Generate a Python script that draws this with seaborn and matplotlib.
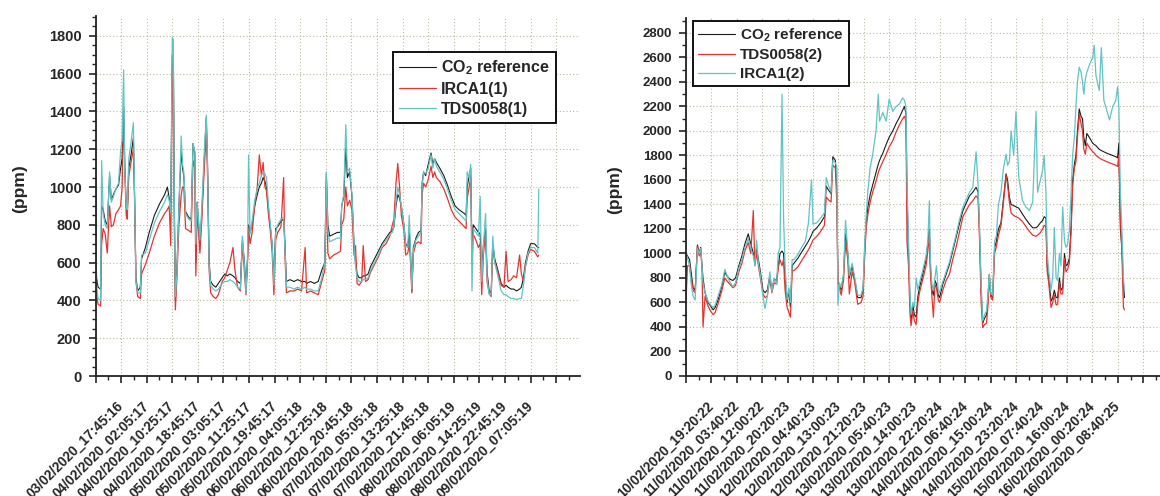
# -*- coding: utf-8 -*-
"""
CO2 传感器对比：两组测量（参考仪 vs IRCA1 / TDS0058）时间序列
x 轴为采样序号（5 min 一个点），主刻度每 100 点（8h20m）
"""
import matplotlib
matplotlib.use('Agg')
import matplotlib.pyplot as plt
import seaborn as sns
from matplotlib.ticker import MultipleLocator

sns.set_style('ticks')
plt.rcParams['font.family'] = ['Liberation Sans', 'DejaVu Sans']
plt.rcParams['font.weight'] = 'bold'
plt.rcParams['mathtext.fontset'] = 'custom'
plt.rcParams['mathtext.rm'] = 'Liberation Sans'
plt.rcParams['mathtext.bf'] = 'Liberation Sans:bold'

# ========== 数据：第一组 ==========
x_left = [0, 4, 10, 20, 24, 30, 38, 46, 55, 62, 70, 80, 90, 98, 104, 110, 114, 120, 124, 130,
          140, 148, 152, 158, 165, 175, 180, 195, 210, 230, 250, 270, 281, 288, 294, 300, 304, 308,
          312, 318, 326, 335, 340, 345, 352, 364, 374, 381, 388, 392, 397, 403, 408, 415, 425,
          433, 438, 444, 450, 460, 470, 480, 495, 505, 515, 525, 537, 545, 555, 566, 574, 582,
          588, 594, 598, 604, 612, 622, 632, 640, 648, 655, 662, 668, 676, 682, 690, 697, 704,
          712, 725, 735, 740, 746, 760, 775, 790, 805, 819, 825, 840, 855, 870, 884, 896, 902,
          908, 915, 930, 945, 957, 962, 970, 978, 984, 993, 1002, 1010, 1016, 1022, 1030, 1040,
          1046, 1055, 1065, 1075, 1090, 1105, 1120, 1135, 1150, 1160, 1166, 1174, 1181, 1188,
          1195, 1205, 1212, 1220, 1226, 1231, 1236, 1242, 1252, 1262, 1272, 1276, 1282, 1290,
          1300, 1311, 1318, 1325, 1332, 1345, 1361, 1375, 1390, 1405, 1420, 1441, 1448, 1452,
          1460, 1466, 1471, 1476, 1486, 1496, 1503, 1509, 1516, 1524, 1530, 1538, 1546, 1552,
          1560, 1572, 1585, 1596, 1604, 1612, 1624, 1634, 1645, 1657, 1664, 1672, 1680, 1690,
          1700, 1715, 1728, 1732]
ref_left = [1080, 520, 470, 460, 900, 880, 820, 800, 1060, 930, 960, 990, 1010, 1100, 1150, 1420,
            1100, 900, 860, 1100, 1180, 1260, 1000, 520, 450, 470, 620, 680, 760, 850, 910, 960,
            1000, 940, 880, 1700, 1720, 900, 400, 560, 900, 1200, 1100, 1060, 870, 840, 830, 1230,
            1180, 600, 920, 800, 700, 850, 1150, 1370, 1100, 600, 500, 480, 470, 490, 520, 540,
            530, 540, 530, 520, 500, 490, 720, 600, 460, 620, 800, 760, 800, 900, 960, 1000,
            1020, 1050, 1030, 1000, 880, 800, 700, 500, 780, 790, 820, 830, 700, 500, 510, 500,
            510, 500, 500, 490, 500, 490, 500, 560, 600, 1070, 800, 740, 750, 760, 760, 900, 950,
            1210, 1050, 1080, 950, 700, 600, 540, 520, 520, 530, 530, 540, 580, 620, 660, 700,
            730, 760, 770, 790, 900, 960, 940, 900, 800, 700, 680, 760, 650, 450, 680, 730, 760,
            770, 1020, 1080, 1060, 1120, 1180, 1120, 1150, 1130, 1100, 1060, 1010, 950, 900, 880,
            860, 850, 1000, 1060, 1100, 650, 800, 780, 760, 750, 550, 700, 780, 550, 450, 440,
            700, 620, 560, 490, 470, 480, 470, 460, 460, 450, 460, 470, 520, 600, 660, 700, 700,
            680, 680]
irca1_left = [1000, 430, 380, 370, 700, 780, 750, 650, 900, 790, 800, 860, 880, 900, 1000, 1420,
              1150, 850, 830, 1060, 1140, 1200, 980, 500, 420, 410, 540, 590, 650, 740, 810, 860,
              880, 900, 690, 1620, 1560, 800, 350, 520, 800, 960, 1000, 1000, 780, 770, 760, 1140,
              1100, 530, 870, 760, 650, 820, 1100, 1300, 1050, 560, 440, 420, 410, 430, 500, 520,
              560, 600, 680, 560, 470, 450, 700, 550, 430, 600, 780, 700, 760, 900, 1000, 1170,
              1060, 1130, 1000, 980, 850, 780, 660, 430, 720, 760, 790, 1050, 650, 440, 450, 450,
              460, 450, 680, 440, 450, 440, 430, 500, 560, 1000, 650, 620, 640, 650, 660, 800, 830,
              1000, 900, 930, 880, 640, 690, 490, 480, 500, 690, 500, 510, 550, 590, 630, 680,
              700, 740, 800, 830, 1020, 1125, 1000, 850, 770, 640, 650, 700, 600, 440, 650, 700,
              710, 700, 960, 1020, 1000, 1040, 1110, 1050, 1080, 1050, 1030, 990, 940, 880, 840,
              820, 790, 780, 940, 1000, 1050, 600, 750, 720, 680, 700, 430, 650, 750, 500, 440,
              420, 680, 600, 550, 480, 470, 660, 500, 510, 530, 520, 640, 540, 500, 580, 640, 670,
              660, 630, 640]
tds_left = [1090, 470, 410, 400, 1140, 860, 800, 780, 1080, 920, 950, 990, 1020, 1190, 1250, 1620,
            1100, 900, 880, 1150, 1250, 1340, 1020, 500, 440, 440, 640, 650, 720, 810, 870, 920,
            960, 930, 870, 1790, 1780, 900, 420, 540, 900, 1270, 1120, 1080, 860, 830, 820, 1230,
            1190, 700, 920, 820, 720, 880, 1180, 1380, 1100, 580, 480, 460, 450, 460, 490, 500,
            500, 510, 500, 490, 470, 460, 740, 580, 440, 640, 1170, 750, 820, 930, 990, 1020,
            1060, 1080, 1070, 1050, 900, 820, 700, 480, 760, 800, 830, 840, 680, 470, 470, 460,
            470, 460, 470, 460, 460, 450, 450, 520, 600, 1080, 760, 710, 720, 730, 730, 900, 960,
            1330, 1080, 1100, 960, 700, 580, 520, 500, 500, 510, 510, 520, 560, 600, 640, 690,
            720, 750, 760, 800, 920, 1000, 960, 900, 800, 690, 680, 850, 640, 460, 670, 720, 740,
            760, 1000, 1080, 1070, 1100, 1170, 1100, 1150, 1110, 1080, 1040, 990, 930, 880, 860,
            830, 820, 1080, 1050, 1120, 450, 780, 760, 740, 950, 500, 690, 860, 520, 430, 430,
            740, 600, 530, 450, 430, 430, 420, 410, 410, 405, 410, 410, 480, 580, 650, 680, 680,
            650, 990]

# ========== 数据：第二组 ==========
x_right = [0, 6, 14, 20, 28, 36, 45, 52, 58, 63, 67, 75, 87, 97, 107, 115, 126, 140, 153, 160,
           172, 185, 195, 208, 220, 232, 245, 255, 265, 271, 278, 285, 293, 303, 311, 320, 330,
           338, 347, 357, 363, 370, 378, 384, 390, 398, 405, 411, 418, 425, 440, 455, 470, 482,
           494, 500, 515, 530, 545, 552, 560, 571, 578, 588, 594, 598, 604, 611, 620, 628, 637,
           643, 654, 663, 676, 689, 697, 703, 709, 716, 725, 735, 748, 757, 762, 775, 788, 800,
           814, 827, 840, 853, 860, 866, 870, 876, 882, 886, 893, 899, 906, 913, 919, 932, 945,
           952, 958, 962, 968, 974, 980, 986, 993, 998, 1011, 1024, 1037, 1050, 1063, 1076,
           1090, 1103, 1116, 1129, 1142, 1150, 1155, 1162, 1168, 1175, 1183, 1188, 1194, 1200,
           1207, 1215, 1222, 1230, 1240, 1250, 1260, 1266, 1273, 1280, 1290, 1299, 1310, 1325,
           1338, 1352, 1365, 1378, 1384, 1395, 1404, 1410, 1417, 1422, 1428, 1437, 1444, 1450,
           1457, 1463, 1470, 1476, 1483, 1490, 1496, 1502, 1509, 1516, 1522, 1529, 1535, 1541,
           1548, 1555, 1561, 1566, 1572, 1578, 1590, 1601, 1607, 1614, 1627, 1635, 1645, 1655,
           1667, 1680, 1692, 1699, 1704, 1710, 1716, 1722, 1726]
ref_right = [1000, 980, 950, 850, 720, 700, 1070, 1000, 1050, 900, 800, 680, 600, 570, 540, 560,
             620, 720, 850, 820, 790, 780, 800, 900, 980, 1080, 1160, 1080, 1000, 930, 1050, 950,
             850, 700, 680, 700, 820, 700, 790, 780, 900, 1000, 1020, 1000, 800, 600, 700, 560,
             900, 920, 960, 1010, 1060, 1100, 1150, 1180, 1210, 1250, 1300, 1550, 1520, 1490,
             1790, 1760, 1500, 760, 750, 700, 820, 1160, 1000, 800, 900, 800, 640, 640, 700,
             1000, 1240, 1380, 1480, 1560, 1660, 1730, 1760, 1820, 1890, 1950, 2000, 2060, 2110,
             2170, 2200, 2140, 1500, 1000, 600, 450, 580, 500, 480, 650, 720, 830, 950, 1080,
             1200, 900, 700, 660, 780, 750, 660, 640, 750, 830, 910, 1020, 1130, 1240, 1350, 1410,
             1470, 1500, 1540, 1500, 1210, 700, 430, 470, 500, 600, 830, 660, 640, 1050, 1100,
             1200, 1250, 1450, 1650, 1600, 1460, 1400, 1390, 1380, 1370, 1320, 1280, 1240, 1210,
             1210, 1220, 1250, 1270, 1300, 1290, 900, 800, 610, 640, 700, 640, 640, 800, 700, 720,
             1000, 900, 910, 960, 1210, 1600, 1730, 1800, 2000, 2180, 2120, 2100, 1950, 1880,
             1980, 1940, 1900, 1890, 1880, 1850, 1840, 1830, 1820, 1810, 1800, 1790, 1780, 1900,
             1200, 1050, 750, 640]
tds_right = [620, 900, 900, 800, 700, 680, 1060, 980, 1020, 880, 400, 650, 570, 530, 500, 520,
             590, 690, 800, 780, 750, 720, 740, 850, 920, 1020, 1090, 1000, 1350, 900, 1000, 900,
             800, 670, 640, 650, 800, 680, 760, 750, 880, 950, 900, 950, 700, 560, 520, 480, 860,
             860, 890, 940, 990, 1030, 1080, 1110, 1140, 1180, 1230, 1460, 1440, 1420, 1720, 1700,
             1400, 760, 720, 660, 780, 1100, 950, 670, 850, 780, 585, 600, 650, 960, 1200, 1320,
             1420, 1500, 1590, 1660, 1690, 1750, 1810, 1870, 1920, 1990, 2050, 2100, 2120, 2080,
             1100, 900, 500, 410, 530, 450, 420, 600, 680, 790, 900, 1020, 1150, 850, 650, 480,
             750, 720, 620, 600, 700, 780, 830, 950, 1050, 1170, 1300, 1350, 1400, 1430, 1470,
             1450, 1150, 600, 395, 420, 430, 560, 800, 640, 620, 1000, 1060, 1150, 1230, 1420,
             1640, 1560, 1420, 1330, 1310, 1300, 1290, 1260, 1220, 1180, 1150, 1140, 1150, 1170,
             1200, 1230, 1220, 850, 760, 560, 600, 660, 580, 585, 760, 670, 670, 960, 850, 870,
             920, 1180, 1550, 1700, 1750, 1950, 2140, 2060, 2000, 1850, 1810, 1900, 1860, 1830,
             1820, 1800, 1780, 1770, 1760, 1750, 1740, 1730, 1720, 1710, 1800, 1300, 1000, 560,
             540]
irca1_right = [1000, 960, 900, 760, 650, 620, 1040, 1000, 1040, 900, 760, 680, 610, 580, 560,
               580, 650, 740, 870, 830, 770, 730, 760, 880, 950, 1050, 1120, 1040, 980, 900, 1110,
               920, 820, 650, 550, 650, 850, 690, 800, 750, 1000, 1050, 2300, 1300, 900, 620, 720,
               600, 950, 950, 990, 1050, 1100, 1250, 1600, 1240, 1250, 1290, 1330, 1620, 1560,
               1500, 1760, 1740, 1700, 580, 760, 720, 830, 1270, 1020, 820, 920, 820, 660, 660,
               720, 1050, 1300, 1510, 1700, 1810, 2000, 2300, 2080, 2150, 2080, 2260, 2160, 2200,
               2220, 2270, 2250, 2200, 1600, 1100, 650, 500, 600, 560, 800, 700, 760, 860, 980,
               1100, 1430, 950, 750, 700, 800, 900, 700, 680, 770, 850, 930, 1040, 1150, 1270,
               1380, 1440, 1500, 1540, 1830, 1550, 1250, 750, 450, 500, 530, 650, 830, 680, 660,
               1100, 1150, 1400, 1500, 1700, 1810, 1720, 1750, 2000, 1800, 2160, 1620, 1430, 1380,
               1350, 1420, 2160, 1500, 1600, 1680, 1800, 1500, 1000, 850, 700, 820, 1210, 800, 780,
               1000, 900, 1380, 1100, 1050, 1075, 1180, 1500, 1800, 1950, 2200, 2400, 2520, 2480,
               2400, 2300, 2420, 2480, 2550, 2600, 2700, 2450, 2330, 2680, 2250, 2180, 2090, 2200,
               2250, 2360, 2200, 1500, 1200, 800, 700]

left_ticklabels = ['03/02/2020_17:45:16', '04/02/2020_02:05:17', '04/02/2020_10:25:17',
                   '04/02/2020_18:45:17', '05/02/2020_03:05:17', '05/02/2020_11:25:17',
                   '05/02/2020_19:45:17', '06/02/2020_04:05:18', '06/02/2020_12:25:18',
                   '06/02/2020_20:45:18', '07/02/2020_05:05:18', '07/02/2020_13:25:18',
                   '07/02/2020_21:45:18', '08/02/2020_06:05:19', '08/02/2020_14:25:19',
                   '08/02/2020_22:45:19', '09/02/2020_07:05:19']
right_ticklabels = ['10/02/2020_19:20:22', '11/02/2020_03:40:22', '11/02/2020_12:00:22',
                    '11/02/2020_20:20:23', '12/02/2020_04:40:23', '12/02/2020_13:00:23',
                    '12/02/2020_21:20:23', '13/02/2020_05:40:23', '13/02/2020_14:00:23',
                    '13/02/2020_22:20:24', '14/02/2020_06:40:24', '14/02/2020_15:00:24',
                    '14/02/2020_23:20:24', '15/02/2020_07:40:24', '15/02/2020_16:00:24',
                    '16/02/2020_00:20:24', '16/02/2020_08:40:25']

C_REF = '#1a1a1a'
C_RED = '#e3342f'
C_CYAN = '#62c3c3'
CO2_LABEL = r'CO$_\mathbf{2}$ reference'

fig = plt.figure(figsize=(11.6, 4.96), dpi=100)
ax1 = fig.add_axes([95.5 / 1160, 120 / 496, 484.5 / 1160, 360 / 496])
ax2 = fig.add_axes([686 / 1160, 120 / 496, 474 / 1160, 358 / 496])


def style_axis(ax, labels, xmax, ymax, ymajor, yminor, ysize):
    ax.set_xlim(0, xmax)
    ax.set_ylim(0, ymax)
    ticks = list(range(0, 1900, 100))
    ax.set_xticks(ticks)
    ax.set_xticklabels([''] + labels + [''] * (len(ticks) - len(labels) - 1),
                       rotation=45, ha='right', va='center', rotation_mode='anchor',
                       fontsize=9.8, fontweight='bold')
    ax.xaxis.set_minor_locator(MultipleLocator(50))
    ax.yaxis.set_major_locator(MultipleLocator(ymajor))
    ax.yaxis.set_minor_locator(MultipleLocator(yminor))
    ax.tick_params(axis='x', which='major', direction='out', length=5, width=1.2, pad=15)
    ax.tick_params(axis='y', which='major', direction='out', length=5, width=1.2, pad=5,
                   labelsize=ysize)
    ax.tick_params(which='minor', direction='out', length=3, width=1.0)
    for lab in ax.get_yticklabels():
        lab.set_fontweight('bold')
    for side in ['top', 'right']:
        ax.spines[side].set_visible(False)
    for side in ['left', 'bottom']:
        ax.spines[side].set_linewidth(1.3)
        ax.spines[side].set_color('#222222')
    ax.grid(True, which='major', linestyle=(0, (1, 2)), color='#b9b99c', linewidth=0.8)
    ax.set_axisbelow(True)
    ax.set_xlabel('')
    ax.set_ylabel('(ppm)', fontsize=12.5, fontweight='bold')


# ========== 左图 ==========
sns.lineplot(x=x_left, y=ref_left, color=C_REF, linewidth=0.8, label=CO2_LABEL, ax=ax1)
sns.lineplot(x=x_left, y=irca1_left, color=C_RED, linewidth=0.9, label='IRCA1(1)', ax=ax1)
sns.lineplot(x=x_left, y=tds_left, color=C_CYAN, linewidth=0.9, label='TDS0058(1)', ax=ax1)
style_axis(ax1, left_ticklabels, 1893, 1905, 200, 50, 10.5)
ax1.yaxis.set_label_coords(-0.142, 0.52)
leg1 = ax1.legend(loc='upper left', bbox_to_anchor=(0.614, 0.9), borderaxespad=0,
                  frameon=True, fancybox=False, framealpha=1, edgecolor='#111111',
                  prop={'weight': 'bold', 'size': 11.5}, handlelength=2.3, handletextpad=0.3,
                  labelspacing=0.3, borderpad=0.4)
leg1.get_frame().set_linewidth(1.4)

# ========== 右图 ==========
sns.lineplot(x=x_right, y=ref_right, color=C_REF, linewidth=0.8, label=CO2_LABEL, ax=ax2)
sns.lineplot(x=x_right, y=tds_right, color=C_RED, linewidth=0.9, label='TDS0058(2)', ax=ax2)
sns.lineplot(x=x_right, y=irca1_right, color=C_CYAN, linewidth=0.9, label='IRCA1(2)', ax=ax2)
style_axis(ax2, right_ticklabels, 1866, 2922, 200, 100, 9.5)
ax2.yaxis.set_label_coords(-0.135, 0.52)
leg2 = ax2.legend(loc='upper left', bbox_to_anchor=(0.015, 0.992), borderaxespad=0,
                  frameon=True, fancybox=False, framealpha=1, edgecolor='#111111',
                  prop={'weight': 'bold', 'size': 11}, handlelength=2.4, handletextpad=0.3,
                  labelspacing=0.3, borderpad=0.35)
leg2.get_frame().set_linewidth(1.4)

fig.savefig('out.png', dpi=100)
